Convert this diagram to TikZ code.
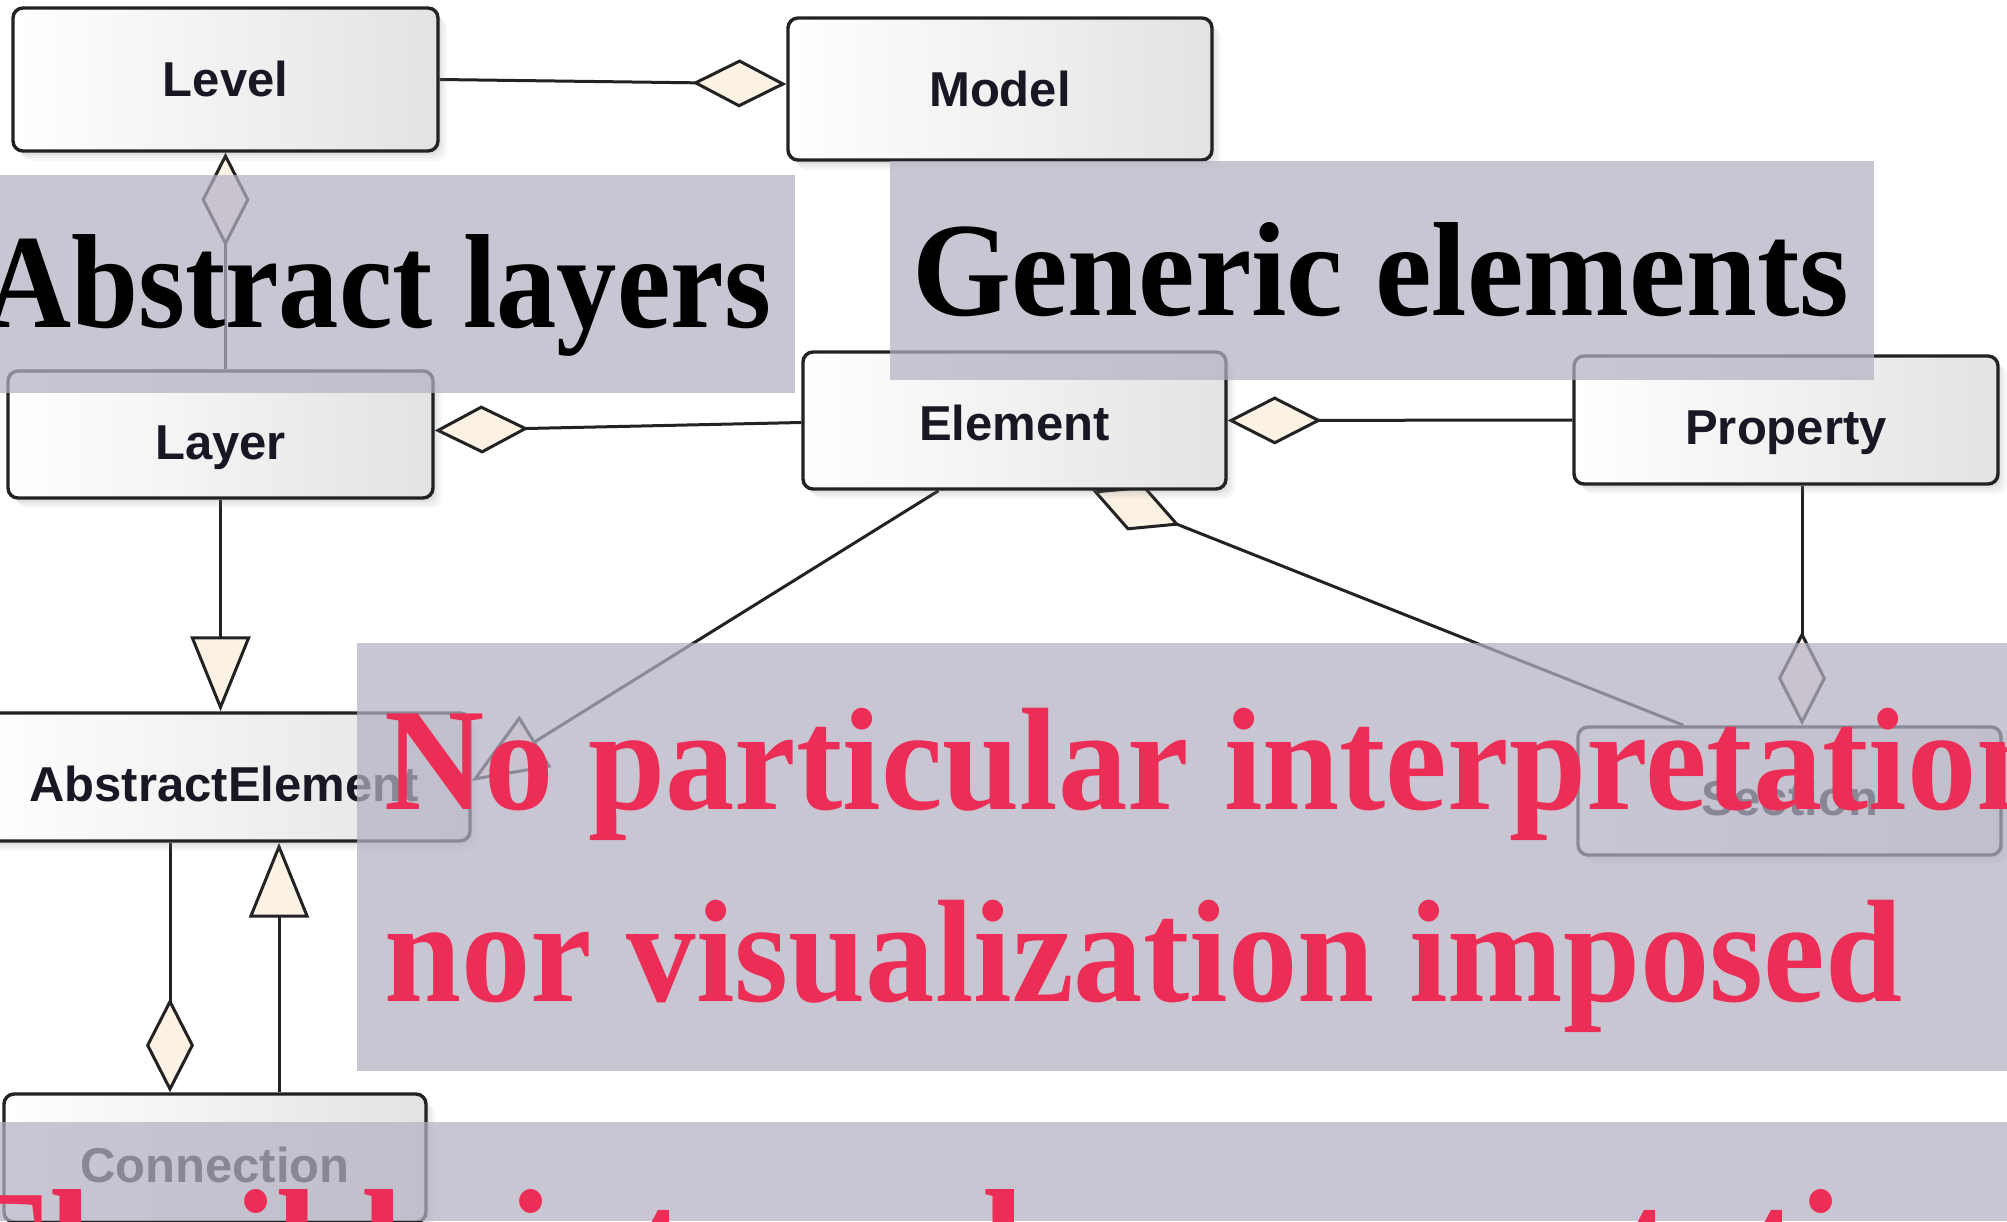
\documentclass[tikz,border=0pt]{standalone}
\usepackage{fontspec}
\setmainfont{Liberation Serif}
\newfontfamily\labelfont{Liberation Sans}
\newfontfamily\headfont[FakeStretch=0.95]{Liberation Serif}
\newfontfamily\headnarrow[FakeStretch=0.90]{Liberation Serif}
\usetikzlibrary{arrows.meta,calc,shadows}
\pgfdeclarelayer{paper}
\pgfdeclarelayer{wires}
\pgfsetlayers{paper,wires,main}

\definecolor{cream}{RGB}{251,242,228}
\definecolor{edge}{RGB}{34,34,34}
\definecolor{veil}{RGB}{181,177,195}
\definecolor{slidered}{RGB}{236,45,85}
\definecolor{ink}{RGB}{24,24,36}

\tikzset{
  agg/.tip={Diamond[fill=cream, length=94pt, width=48pt]},
  gen/.tip={Triangle[fill=cream, length=75pt, width=60pt]},
  umlclass/.style={draw=edge, line width=3.4pt, rounded corners=10pt,
    left color=white, right color=gray!22, inner sep=0pt,
    drop shadow={shadow xshift=9pt, shadow yshift=-10pt, opacity=0.06},
    drop shadow={shadow xshift=6pt, shadow yshift=-7pt, opacity=0.08},
    drop shadow={shadow xshift=3pt, shadow yshift=-4pt, opacity=0.10}},
  classname/.style={anchor=base, yshift=-90pt, inner sep=0pt, text=ink,
    font=\labelfont\bfseries\fontsize{49}{58}\selectfont},
  link/.style={draw=edge, line width=3pt},
  band/.style={fill=veil, fill opacity=0.72},
  headline/.style={anchor=base west, inner sep=0pt,
    font=\headfont\bfseries\fontsize{134}{160}\selectfont},
  claim/.style={anchor=base west, inner sep=0pt, text=slidered,
    font=\headfont\bfseries\fontsize{146}{192}\selectfont}
}

\begin{document}
\begin{tikzpicture}[x=1pt,y=-1pt]
\useasboundingbox (0,0) rectangle (2007,1221);
\clip (0,0) rectangle (2007,1221);
\begin{pgfonlayer}{paper}
\fill[white] (0,0) rectangle (2007,1221);
\end{pgfonlayer}

% classes
\node[umlclass, minimum width=425pt, minimum height=143pt, label={[classname]north:Level}] (level) at (225.5,79.5) {};
\node[umlclass, minimum width=424pt, minimum height=142pt, label={[classname]north:Model}] (model) at (1000,89) {};
\node[umlclass, minimum width=425pt, minimum height=127pt, label={[classname]north:Layer}] (layer) at (220.5,434.5) {};
\node[umlclass, minimum width=423pt, minimum height=137pt, label={[classname]north:Element}] (element) at (1014.5,420.5) {};
\node[umlclass, minimum width=424pt, minimum height=128pt, label={[classname]north:Property}] (property) at (1786,420) {};
\node[umlclass, minimum width=492pt, minimum height=128pt, label={[classname]north:AbstractElement}] (ae) at (224,777) {};
\node[umlclass, minimum width=423pt, minimum height=128pt, label={[classname]north:Section}] (section) at (1789.5,791) {};
\node[umlclass, minimum width=422pt, minimum height=128pt, label={[classname]north:Connection}] (conn) at (215,1158) {};

% associations
\begin{pgfonlayer}{wires}
\draw[link, -{agg}] (level.east) -- ($(model.west)+(0,-5)$);
\draw[link, {agg}-] (level.south) -- (level.south |- layer.north);
\draw[link, {agg}-] ($(layer.east)+(0,-4)$) -- ($(element.west)+(0,2)$);
\draw[link, {agg}-] (element.east) -- (property.west);
\draw[link, -{gen}] (layer.south) -- (layer.south |- ae.north);
\draw[link, -{gen}] ($(element.south)+(-76,0)$) -- ($(ae.east)+(0,4)$);
\draw[link, {agg}-] ($(element.south)+(78,0)$) -- ($(section.north)+(-106,0)$);
\coordinate (pdrop) at ($(property.south)+(16,0)$);
\draw[link, -{agg}] (pdrop) -- (pdrop |- section.north);
\coordinate (aeleft) at ($(ae.south)+(-54,0)$);
\draw[link, -{agg}] (aeleft) -- (aeleft |- conn.north);
\coordinate (aeright) at ($(ae.south)+(55,0)$);
\draw[link, -{gen}] (aeright |- conn.north) -- (aeright);
\end{pgfonlayer}

% translucent caption bands
\fill[band] (0,175) rectangle (795,393);
\fill[band] (890,161) rectangle (1874,380);
\fill[band] (357,643) rectangle (2007,1071);
\fill[band] (0,1122) rectangle (2007,1221);

% captions
\node[headline, font=\headnarrow\bfseries\fontsize{134}{160}\selectfont] (tabstract) at (-16,327) {Abstract layers};
\node[headline] (tgeneric) at (912,315) {Generic elements};
\node[claim] (tnone) at (384,809) {No particular interpretation};
\node[claim] (tnor) at (384,1001) {nor visualization imposed};
\node[claim, font=\headfont\bfseries\fontsize{160}{192}\selectfont] (tflex) at (-44,1300) {Flexible internal representation};
\end{tikzpicture}
\end{document}
